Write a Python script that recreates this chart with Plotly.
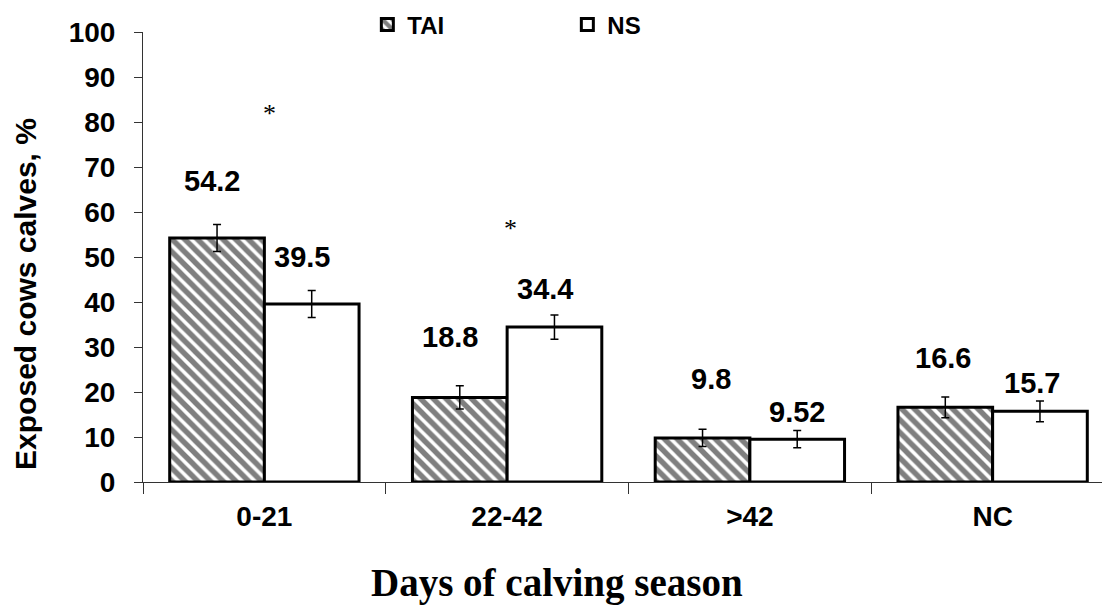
import plotly.graph_objects as go

categories = ["0-21", "22-42", ">42", "NC"]
tai_values = [54.2, 18.8, 9.8, 16.6]
ns_values = [39.56, 34.43, 9.52, 15.7]
tai_err = [3.0, 2.6, 1.9, 2.3]
ns_err = [3.0, 2.7, 1.9, 2.3]
tai_labels = ["54.2", "18.8", "9.8", "16.6"]
ns_labels = ["39.5", "34.4", "9.52", "15.7"]
y_ticks = list(range(0, 101, 10))

# label placement (offset from category centre in category units, y in data units)
tai_label_dx = [-0.215, -0.235, -0.161, -0.204]
tai_label_y = [66.8, 32.2, 23.0, 27.5]
ns_label_dx = [0.155, 0.157, 0.193, 0.163]
ns_label_y = [50.0, 43.0, 15.6, 22.0]
star_cats = [0, 1]
star_dx = [0.02, 0.012]
star_y = [81.9, 56.3]

SANS = "Liberation Sans, Arial, sans-serif"
SERIF = "Liberation Serif, Times New Roman, serif"

fig = go.Figure()
fig.add_trace(go.Bar(
    name="TAI", x=categories, y=tai_values,
    marker=dict(color="white", line=dict(color="black", width=3),
                pattern=dict(shape="\\", fgcolor="black", bgcolor="white",
                             size=9, solidity=0.6)),
    error_y=dict(type="data", array=tai_err, color="black", thickness=1.5, width=4),
))
fig.add_trace(go.Bar(
    name="NS", x=categories, y=ns_values,
    marker=dict(color="white", line=dict(color="black", width=3)),
    error_y=dict(type="data", array=ns_err, color="black", thickness=1.5, width=4),
))

annotations = []
for i in range(len(categories)):
    annotations.append(dict(x=i + tai_label_dx[i], y=tai_label_y[i], xref="x", yref="y",
                            text=tai_labels[i], showarrow=False, xanchor="center", yanchor="middle",
                            font=dict(family=SANS, size=29, color="black", weight="bold")))
    annotations.append(dict(x=i + ns_label_dx[i], y=ns_label_y[i], xref="x", yref="y",
                            text=ns_labels[i], showarrow=False, xanchor="center", yanchor="middle",
                            font=dict(family=SANS, size=29, color="black", weight="bold")))
for c, dx, yy in zip(star_cats, star_dx, star_y):
    annotations.append(dict(x=c + dx, y=yy, xref="x", yref="y", text="*", showarrow=False,
                            xanchor="center", yanchor="middle",
                            font=dict(family=SERIF, size=26, color="black")))
annotations.append(dict(x=0, xshift=-117, y=0.418, xref="paper", yref="paper",
                        text="Exposed cows calves, %", textangle=-90, showarrow=False,
                        xanchor="center", yanchor="middle",
                        font=dict(family=SANS, size=30, color="black", weight="bold")))
annotations.append(dict(x=0.428, y=-0.224, xref="paper", yref="paper",
                        text="Days of calving season", showarrow=False,
                        xanchor="center", yanchor="middle",
                        font=dict(family=SERIF, size=39, color="black", weight="bold")))

# page body has an 8px default margin, so the figure is offset by 8px
fig.update_layout(
    width=1110, height=614,
    margin=dict(l=135, r=8, t=24, b=140, autoexpand=False),
    paper_bgcolor="white", plot_bgcolor="white",
    barmode="group", bargap=0.22, bargroupgap=0,
    showlegend=True,
    legend=dict(orientation="h", x=0.232, y=1.016, xanchor="left", yanchor="middle",
                entrywidth=155, entrywidthmode="pixels",
                font=dict(family=SANS, size=24, color="black", weight="bold"),
                bgcolor="rgba(0,0,0,0)"),
    annotations=annotations,
    xaxis=dict(type="category", range=[-0.5, 3.4835], showline=True, linecolor="#333",
               linewidth=1, ticks="outside", tickson="boundaries", ticklen=11,
               tickcolor="#333", showgrid=False, ticklabelstandoff=9,
               tickfont=dict(family=SANS, size=28, color="black", weight="bold")),
    yaxis=dict(range=[0, 100], tickvals=y_ticks, showline=True, linecolor="#333",
               linewidth=1, ticks="outside", ticklen=8, tickcolor="#333",
               showgrid=False, zeroline=False, ticklabelstandoff=13,
               tickfont=dict(family=SANS, size=28, color="black", weight="bold")),
)

fig.write_html("out.html")
